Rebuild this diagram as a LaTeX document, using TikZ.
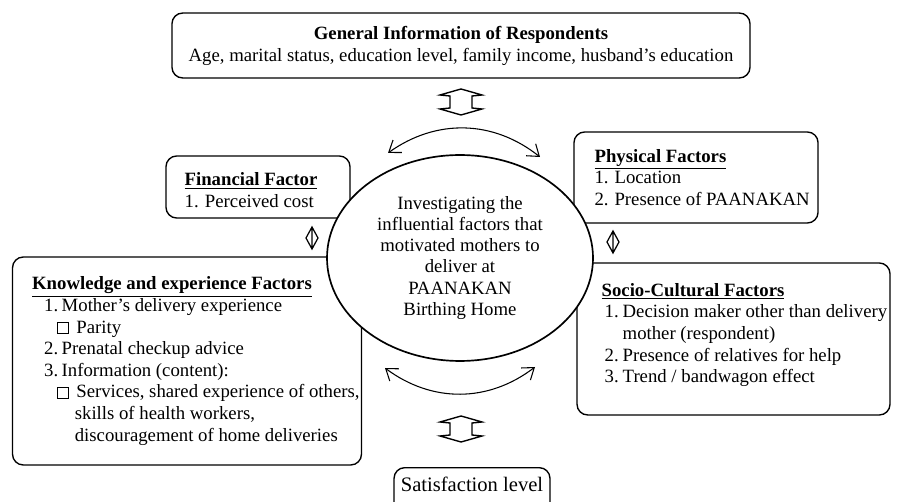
\documentclass[tikz,border=0pt]{standalone}
\usepackage{fontspec}
\setmainfont{Liberation Serif}
\usetikzlibrary{arrows.meta,shapes.geometric,calc}

\newcommand{\opensq}{{\setlength{\fboxsep}{0pt}\setlength{\fboxrule}{0.6pt}\fbox{\rule{0pt}{6.4pt}\rule{6.4pt}{0pt}}}}

\tikzset{
  factor/.style={draw, line width=0.9pt, rounded corners=7pt, fill=white, inner sep=0pt},
  factortext/.style={anchor=west, align=left, inner sep=0pt, font=\fontsize{12.3}{14.2}\selectfont},
  swing/.style={<->, line width=0.7pt},
}

\begin{document}
\begin{tikzpicture}[x=0.656pt, y=-0.656pt, >={Straight Barb[length=7pt,width=10pt]}]
\clip (0,0) rectangle (898,502);

% general information
\node[factor, minimum width=379.2pt, minimum height=42.6pt, align=center,
  font=\fontsize{12.3}{14.4}\selectfont] (gen) at (461,45.5)
  {\textbf{General Information of Respondents}\\
   Age, marital status, education level, family income, husband's education};

% factor boxes
\node[factor, minimum width=120.7pt, minimum height=40.7pt] (fin) at (258,187) {};
\node[factortext] (fintxt) at ($(fin.west)+(19,3)$)
  {\underline{\textbf{Financial Factor}}\\1. Perceived cost};

\node[factor, minimum width=160.1pt, minimum height=59.7pt] (phys) at (696,177.5) {};
\node[factortext] (phystxt) at ($(phys.west)+(21,0)$)
  {\underline{\textbf{Physical Factors}}\\
   \makebox[13.1pt][l]{1.}Location\\
   \makebox[13.1pt][l]{2.}Presence of PAANAKAN};

\node[factor, minimum width=228.9pt, minimum height=136.4pt] (know) at (187,361) {};
\node[factortext] (knowtxt) at ($(know.west)+(20,0)$)
  {\underline{\textbf{Knowledge and experience Factors}}\\
   \hspace*{7.9pt}\makebox[11.5pt][l]{1.}Mother's delivery experience\\
   \hspace*{16.4pt}\opensq\hspace{5pt}Parity\\
   \hspace*{7.9pt}\makebox[11.5pt][l]{2.}Prenatal checkup advice\\
   \hspace*{7.9pt}\makebox[11.5pt][l]{3.}Information (content):\\
   \hspace*{16.4pt}\opensq\hspace{5pt}Services, shared experience of others,\\
   \hspace*{28pt}skills of health workers,\\
   \hspace*{28pt}discouragement of home deliveries};

\node[factor, minimum width=205.3pt, minimum height=99.7pt] (socio) at (733.5,339) {};
\node[factortext] (sociotxt) at ($(socio.west)+(25,-4)$)
  {\underline{\textbf{Socio-Cultural Factors}}\\
   \hspace*{2pt}\makebox[11.8pt][l]{1.}Decision maker other than delivery\\
   \hspace*{13.8pt}mother (respondent)\\
   \hspace*{2pt}\makebox[11.8pt][l]{2.}Presence of relatives for help\\
   \hspace*{2pt}\makebox[11.8pt][l]{3.}Trend / bandwagon effect};

\node[factor, anchor=north, minimum width=102.3pt, inner ysep=6pt,
  text height=9.6pt, text depth=20pt,
  font=\fontsize{13.5}{16}\selectfont] (satis) at (472,467) {Satisfaction level};

% centre
\node[ellipse, draw, line width=1.1pt, fill=white, minimum width=174.5pt,
  minimum height=135.1pt, inner sep=0pt, align=center,
  font=\fontsize{12.3}{13.8}\selectfont] (centre) at (460,258)
  {Investigating the\\influential factors that\\motivated mothers to\\deliver at\\PAANAKAN\\Birthing Home};

% interaction arrows
\coordinate (tl) at (388,153);
\coordinate (tr) at (540,157);
\coordinate (bl) at (385,368);
\coordinate (br) at (535,367);
\draw[swing] (tl) to[bend left=37] (tr);
\draw[swing] (bl) to[bend right=37] (br);

\coordinate (gu) at (461,102);
\coordinate (gd) at (461,429);
\foreach \c in {gu,gd}
  \draw[line width=0.9pt, shift={(\c)}] (0,-13) -- (21,-7) -- (11,-6) -- (11,6) -- (21,7)
    -- (0,13) -- (-21,7) -- (-11,6) -- (-11,-6) -- (-21,-7) -- cycle;

\coordinate (dl) at (312,238);
\coordinate (dr) at (613,242);
\foreach \c in {dl,dr}
  \draw[line width=0.8pt, shift={(\c)}] (0,-11) -- (6,0) -- (0,11) -- (-6,0) -- cycle
    (0,-11) -- (0,11);

\end{tikzpicture}
\end{document}
